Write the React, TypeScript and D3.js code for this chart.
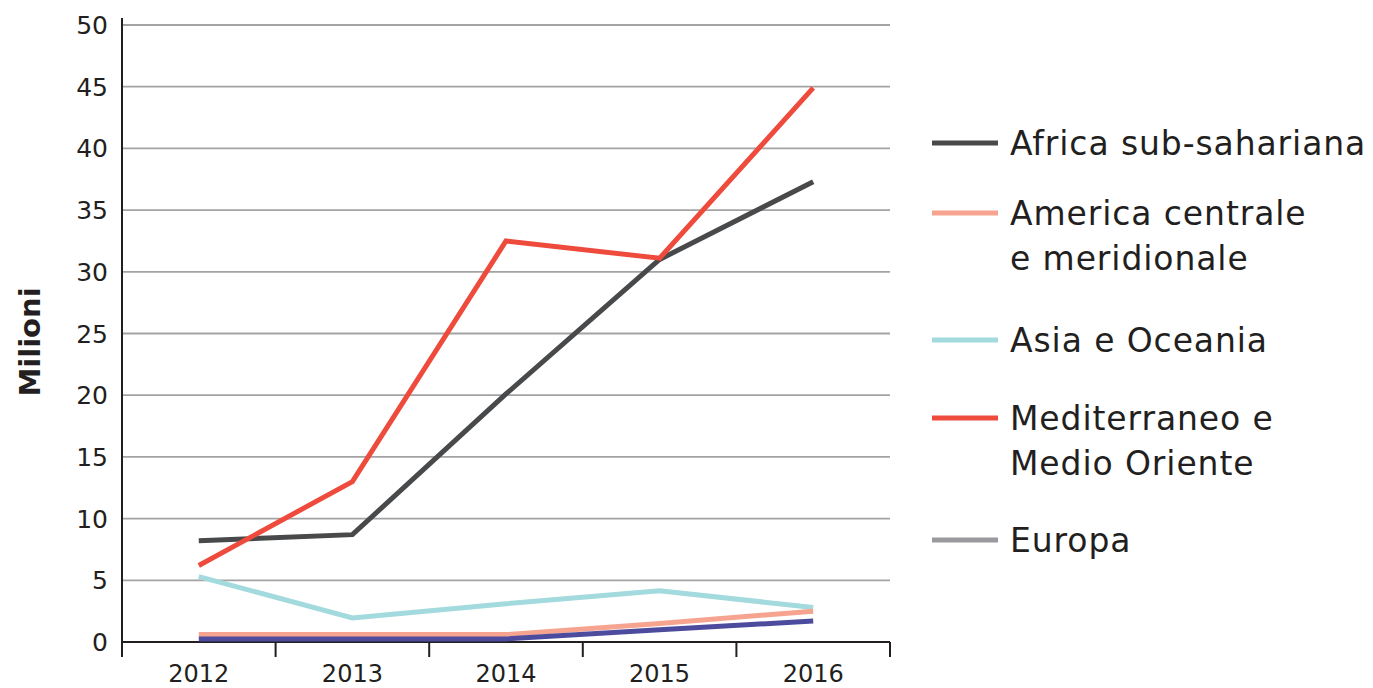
import React from "react";
import * as d3 from "d3";

const years = ["2012", "2013", "2014", "2015", "2016"];
const yTicks = [0, 5, 10, 15, 20, 25, 30, 35, 40, 45, 50];

const africa = [8.2, 8.7, 20.1, 31.0, 37.3];
const america = [0.6, 0.6, 0.6, 1.5, 2.5];
const asia = [5.3, 1.95, 3.1, 4.15, 2.8];
const mediterraneo = [6.2, 13.0, 32.5, 31.1, 44.9];
const europa = [0.25, 0.25, 0.25, 1.0, 1.7];

const seriesNames = [
  ["Africa sub-sahariana"],
  ["America centrale", "e meridionale"],
  ["Asia e Oceania"],
  ["Mediterraneo e", "Medio Oriente"],
  ["Europa"],
];
const lineColors = ["#48494b", "#f6a48f", "#a2dadd", "#ee4b3d", "#4d4b9d"];
const legendColors = ["#48494b", "#f6a48f", "#a2dadd", "#ee4b3d", "#9a9a9e"];

const FONT = "'DejaVu Sans', sans-serif";

export default function App() {
  const W = 1373, H = 688;
  const left = 122, right = 890, top = 25, bottom = 642;
  const x = d3.scaleBand<string>().domain(years).range([left, right]);
  const y = d3.scaleLinear().domain([0, 50]).range([bottom, top]);
  const line = d3
    .line<number>()
    .x((_, i) => (x(years[i]) as number) + x.bandwidth() / 2)
    .y((d) => y(d));

  const data = [africa, america, asia, mediterraneo, europa];
  const drawOrder = [2, 1, 4, 0, 3];
  const tickXs = years.map((yr) => x(yr) as number).concat([right]);

  const legendY = [143, 213, 340, 418, 540];

  return (
    <svg width={W} height={H} style={{ position: "absolute", left: 0, top: 0 }}>
      <rect width={W} height={H} fill="#fff" />
      {yTicks.map((t) => (
        <g key={t}>
          {t > 0 && (
            <line x1={left} x2={right} y1={y(t)} y2={y(t)} stroke="#a3a3a5" strokeWidth={1.8} />
          )}
          <text
            x={108}
            y={y(t)}
            dy="0.36em"
            textAnchor="end"
            fontFamily={FONT}
            fontSize={25}
            fill="#231f20"
          >
            {t}
          </text>
        </g>
      ))}
      <line x1={left} x2={left} y1={18} y2={657} stroke="#231f20" strokeWidth={2} />
      <line x1={left} x2={right} y1={bottom} y2={bottom} stroke="#231f20" strokeWidth={2.2} />
      {tickXs.map((tx, i) => (
        <line key={i} x1={tx} x2={tx} y1={bottom} y2={657} stroke="#231f20" strokeWidth={2} />
      ))}
      {years.map((yr) => (
        <text
          key={yr}
          x={(x(yr) as number) + x.bandwidth() / 2}
          y={682}
          textAnchor="middle"
          fontFamily={FONT}
          fontSize={24}
          fill="#231f20"
        >
          {yr}
        </text>
      ))}
      <text
        transform={`translate(40,342) rotate(-90)`}
        textAnchor="middle"
        fontFamily={FONT}
        fontWeight="bold"
        fontSize={29}
        fill="#231f20"
      >
        Milioni
      </text>
      {drawOrder.map((i) => (
        <path
          key={i}
          d={line(data[i]) as string}
          fill="none"
          stroke={lineColors[i]}
          strokeWidth={5}
          strokeLinejoin="miter"
        />
      ))}
      {seriesNames.map((lines, i) => (
        <g key={i}>
          <line
            x1={932}
            x2={998}
            y1={legendY[i]}
            y2={legendY[i]}
            stroke={legendColors[i]}
            strokeWidth={5}
          />
          {lines.map((s, j) => (
            <text
              key={j}
              x={1010}
              y={legendY[i] + 12 + j * 45}
              fontFamily={FONT}
              fontSize={33}
              letterSpacing={0.9}
              fill="#231f20"
            >
              {s}
            </text>
          ))}
        </g>
      ))}
    </svg>
  );
}
